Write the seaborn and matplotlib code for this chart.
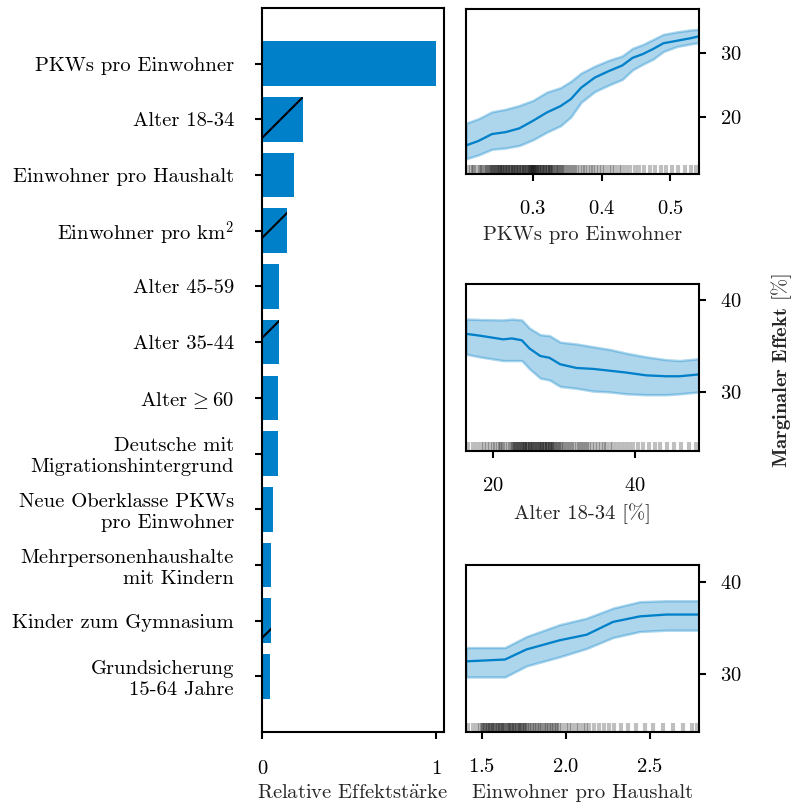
import matplotlib
matplotlib.use("Agg")
import matplotlib.pyplot as plt
import seaborn as sns

# importance bars (top to bottom)
features = [
    "PKWs pro Einwohner",
    "Alter 18-34",
    "Einwohner pro Haushalt",
    "Einwohner pro km$^2$",
    "Alter 45-59",
    "Alter 35-44",
    r"Alter$\,{\geq}$60",
    "Deutsche mit\nMigrationshintergrund",
    "Neue Oberklasse PKWs\npro Einwohner",
    "Mehrpersonenhaushalte\nmit Kindern",
    "Kinder zum Gymnasium",
    "Grundsicherung\n15-64 Jahre",
]
importance = [1.0, 0.237, 0.182, 0.146, 0.100, 0.100, 0.094, 0.092, 0.065, 0.054, 0.052, 0.048]
negative = [False, True, False, True, False, True, False, False, False, False, True, True]

# partial dependence: PKWs pro Einwohner
pkw_x = [0.202, 0.22, 0.24, 0.26, 0.28, 0.30, 0.32, 0.34, 0.355, 0.37, 0.39, 0.41, 0.43, 0.445, 0.46, 0.475, 0.49, 0.51, 0.53, 0.542]
pkw_mean = [15.5, 16.2, 17.3, 17.6, 18.2, 19.4, 20.7, 21.7, 22.8, 24.6, 26.2, 27.2, 28.1, 29.3, 29.9, 30.7, 31.6, 32.0, 32.4, 32.7]
pkw_hi = [19.0, 19.7, 20.8, 21.2, 21.8, 22.6, 23.9, 24.6, 25.6, 26.9, 28.0, 28.9, 29.6, 30.8, 31.4, 32.2, 33.0, 33.4, 33.7, 33.8]
pkw_lo = [13.4, 14.0, 14.9, 15.1, 15.5, 16.4, 17.6, 18.6, 20.0, 22.3, 24.0, 25.0, 25.9, 27.4, 28.3, 29.1, 30.3, 31.1, 31.5, 31.7]
pkw_rug = [0.205, 0.209, 0.212, 0.214, 0.218, 0.222, 0.224, 0.226, 0.229, 0.231, 0.232, 0.235, 0.237, 0.239,
           0.240, 0.242, 0.243, 0.244, 0.246, 0.247, 0.248, 0.250, 0.251, 0.252, 0.254, 0.255, 0.256, 0.258,
           0.259, 0.260, 0.262, 0.263, 0.264, 0.266, 0.267, 0.268, 0.270, 0.271, 0.272, 0.274, 0.275, 0.276,
           0.278, 0.279, 0.280, 0.282, 0.283, 0.284, 0.286, 0.287, 0.288, 0.290, 0.291, 0.292, 0.294, 0.295,
           0.296, 0.297, 0.298, 0.299, 0.300, 0.300, 0.301, 0.302, 0.303, 0.304, 0.305, 0.306, 0.308, 0.309,
           0.310, 0.312, 0.313, 0.314, 0.316, 0.317, 0.318, 0.320, 0.321, 0.322, 0.324, 0.325, 0.326, 0.328,
           0.329, 0.330, 0.333, 0.335, 0.336, 0.338, 0.340, 0.342, 0.343, 0.346, 0.349, 0.352, 0.355, 0.358,
           0.361, 0.364, 0.368, 0.372, 0.376, 0.380, 0.384, 0.388, 0.392, 0.396, 0.400, 0.405, 0.410, 0.415,
           0.420, 0.425, 0.430, 0.436, 0.442, 0.448, 0.455, 0.462, 0.470, 0.478, 0.486, 0.494, 0.503, 0.512,
           0.522, 0.531, 0.538]

# partial dependence: Alter 18-34
age_x = [16.25, 18.2, 21.5, 22.7, 24.1, 25.2, 26.7, 28.0, 29.5, 31.8, 34.1, 36.5, 38.8, 41.6, 44.4, 46.3, 49.0]
age_mean = [36.3, 36.1, 35.7, 35.8, 35.6, 34.7, 33.9, 33.7, 33.0, 32.6, 32.5, 32.3, 32.1, 31.8, 31.7, 31.7, 31.9]
age_hi = [37.9, 37.85, 37.8, 37.9, 37.8, 36.9, 36.2, 36.1, 35.4, 35.2, 34.9, 34.6, 34.2, 33.8, 33.5, 33.4, 33.6]
age_lo = [34.1, 33.8, 33.4, 33.4, 33.4, 32.5, 31.5, 31.3, 30.6, 30.4, 30.1, 30.0, 29.8, 29.7, 29.7, 29.8, 30.0]
age_rug = [16.6, 17.2, 17.8, 18.3, 18.8, 19.2, 19.6, 20.0, 20.4, 20.8, 21.0, 21.2, 21.5, 21.8, 22.1, 22.4,
           22.7, 22.9, 23.0, 23.2, 23.3, 23.4, 23.6, 23.7, 23.8, 24.0, 24.1, 24.2, 24.4, 24.5, 24.6, 24.8,
           24.9, 25.0, 25.2, 25.3, 25.4, 25.6, 25.7, 25.8, 26.0, 26.1, 26.2, 26.4, 26.5, 26.6, 26.8, 26.9,
           27.0, 27.2, 27.3, 27.4, 27.6, 27.7, 27.8, 28.0, 28.1, 28.2, 28.4, 28.5, 28.6, 28.8, 29.0, 29.2,
           29.4, 29.6, 29.8, 30.0, 30.3, 30.6, 30.9, 31.2, 31.5, 31.8, 32.1, 32.4, 32.7, 33.0, 33.3, 33.6,
           34.0, 34.4, 34.8, 35.2, 35.6, 36.0, 36.5, 37.0, 37.5, 38.0, 38.6, 39.2, 39.8, 40.5, 41.2, 42.0,
           42.8, 43.6, 44.5, 45.5, 46.5, 47.6, 48.6]

# partial dependence: Einwohner pro Haushalt
hh_x = [1.407, 1.639, 1.767, 1.965, 2.124, 2.282, 2.441, 2.599, 2.793]
hh_mean = [31.4, 31.6, 32.7, 33.7, 34.3, 35.7, 36.3, 36.5, 36.5]
hh_hi = [32.9, 32.9, 34.1, 35.4, 36.1, 37.2, 37.9, 38.0, 38.0]
hh_lo = [29.7, 29.7, 30.9, 31.9, 32.8, 34.0, 34.65, 34.8, 34.8]
hh_rug = [1.42, 1.45, 1.47, 1.49, 1.50, 1.51, 1.515, 1.52, 1.53, 1.535, 1.54, 1.55, 1.555, 1.56, 1.57,
          1.575, 1.58, 1.59, 1.595, 1.60, 1.61, 1.615, 1.62, 1.63, 1.635, 1.64, 1.65, 1.655, 1.66, 1.67,
          1.675, 1.68, 1.69, 1.695, 1.70, 1.71, 1.715, 1.72, 1.73, 1.735, 1.74, 1.75, 1.755, 1.76, 1.77,
          1.78, 1.79, 1.80, 1.81, 1.82, 1.83, 1.84, 1.85, 1.86, 1.87, 1.88, 1.89, 1.90, 1.91, 1.92, 1.93,
          1.94, 1.95, 1.96, 1.98, 2.00, 2.02, 2.04, 2.06, 2.08, 2.10, 2.12, 2.14, 2.17, 2.20, 2.23, 2.26,
          2.29, 2.33, 2.37, 2.42, 2.47, 2.52, 2.58, 2.64, 2.70, 2.75, 2.78]

BLUE = "#0080c8"
W, H, DPI = 793, 803, 300

sns.set_style("ticks")
plt.rcParams["font.family"] = ["cmr10", "DejaVu Serif"]
plt.rcParams["mathtext.fontset"] = "cm"
plt.rcParams["axes.formatter.use_mathtext"] = True
plt.rcParams["font.size"] = 4.95
plt.rcParams["axes.linewidth"] = 0.5
plt.rcParams["axes.edgecolor"] = "black"
plt.rcParams["xtick.major.width"] = 0.5
plt.rcParams["ytick.major.width"] = 0.5
plt.rcParams["xtick.major.size"] = 1.7
plt.rcParams["ytick.major.size"] = 1.7
plt.rcParams["xtick.color"] = "black"
plt.rcParams["ytick.color"] = "black"
plt.rcParams["hatch.linewidth"] = 0.5
plt.rcParams["hatch.color"] = "black"


def box(x0, y0, x1, y1):
    return [x0 / W, 1 - y1 / H, (x1 - x0) / W, (y1 - y0) / H]


fig = plt.figure(figsize=(W / DPI, H / DPI), dpi=DPI)

# left: relative importance
ax = fig.add_axes(box(262, 8, 444, 732))
sns.barplot(x=importance, y=features, orient="h", color=BLUE, saturation=1,
            width=0.8, edgecolor="black", linewidth=0, ax=ax)
for bar, neg in zip(ax.patches, negative):
    if neg:
        bar.set_hatch("/")
ax.set_xlim(0, 1.046)
ax.set_ylim(12, -1)
ax.set_xticks([0, 1])
ax.set_xticklabels(["0", "1"])
ax.set_xlabel(r'Relative Effektst$\"{\mathrm{a}}$rke', labelpad=1.5)
ax.set_ylabel("")
ax.tick_params(axis="y", pad=5.0)
ax.tick_params(axis="x", pad=5)


def pd_panel(rect, x, mean, lo, hi, rug, xlim, ylim, xticks, yticks, xlabel):
    a = fig.add_axes(box(*rect))
    a.fill_between(x, lo, hi, color=BLUE, alpha=0.32, lw=0.6)
    sns.lineplot(x=x, y=mean, color=BLUE, lw=0.55, ax=a)
    sns.rugplot(x=rug, height=0.055, color="black", alpha=0.25, lw=0.3, ax=a)
    a.set_xlim(*xlim)
    a.set_ylim(*ylim)
    a.set_xticks(xticks)
    a.set_yticks(yticks)
    a.yaxis.tick_right()
    a.tick_params(axis="y", pad=3.4)
    a.tick_params(axis="x", pad=4.5)
    a.set_xlabel(xlabel, labelpad=2)
    return a


pd_panel((466, 9, 699, 174), pkw_x, pkw_mean, pkw_lo, pkw_hi, pkw_rug,
         (0.202, 0.542), (11.0, 37.0), [0.3, 0.4, 0.5], [20, 30], "PKWs pro Einwohner")
pd_panel((466, 284, 699, 451), age_x, age_mean, age_lo, age_hi, age_rug,
         (16.25, 49.03), (23.6, 41.7), [20, 40], [30, 40], "Alter 18-34 [%]")
pd_panel((466, 565, 699, 732), hh_x, hh_mean, hh_lo, hh_hi, hh_rug,
         (1.407, 2.793), (23.7, 41.9), [1.5, 2.0, 2.5], [30, 40], "Einwohner pro Haushalt")

fig.text(782 / W, 1 - 370 / H, r"$\mathbf{Marginaler\ Effekt}$ [%]",
         rotation=90, ha="center", va="center")

fig.savefig("out.png", dpi=DPI)
